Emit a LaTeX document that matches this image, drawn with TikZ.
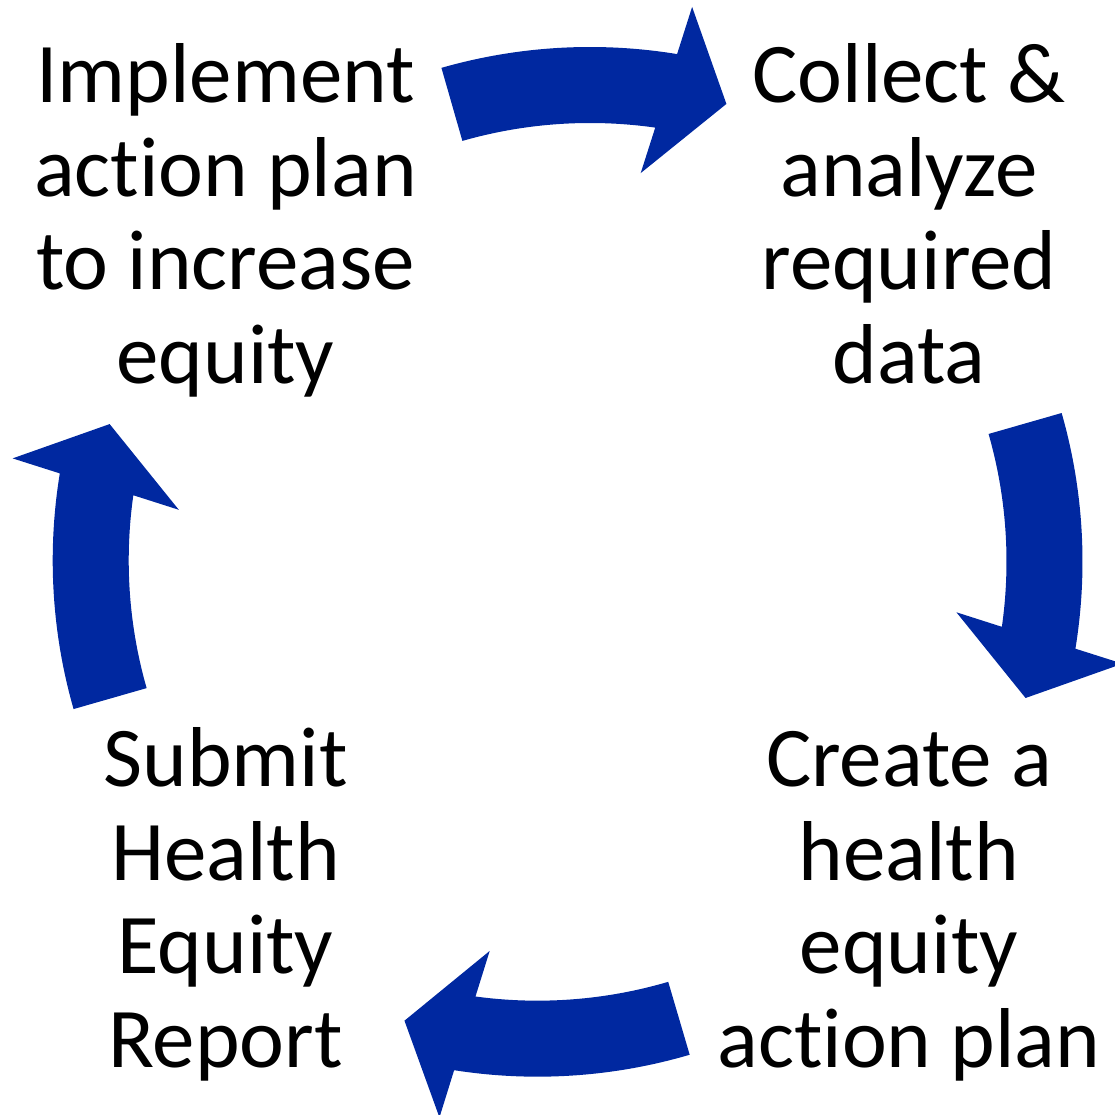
\documentclass[tikz,border=0pt]{standalone}
\usepackage{fontspec}
\setmainfont{Carlito}[Ligatures=NoCommon]
\definecolor{cycblue}{HTML}{0028A0}
\tikzset{
  arrowfill/.style={fill=cycblue, draw=none},
  lbl/.style={align=center, inner sep=0pt, font=\fontsize{85}{93.5}\selectfont, text=black}
}
\newcommand\cycarrow[3]{%
  \begin{scope}[shift={(#1,#2)}]
    \pgfmathsetmacro\aT{#3}
    \pgfmathsetmacro\aO{#3-25.3}
    \pgfmathsetmacro\aH{#3-26.0}
    \pgfmathsetmacro\aP{#3-31.8}
    \pgfmathsetmacro\aHi{#3-23.0}
    \pgfmathsetmacro\aI{#3-24.1}
    \fill[arrowfill] (\aT:539pt) arc[start angle=\aT, end angle=\aO, radius=539pt]
      -- (\aH:588pt) -- (\aP:501pt) -- (\aHi:416pt) -- (\aI:463pt)
      arc[start angle=\aI, end angle=\aT, radius=463pt] -- cycle;
  \end{scope}}
\begin{document}
\begin{tikzpicture}[x=1pt, y=1pt]
  \path[use as bounding box] (0,0) rectangle (1115,1115);
  \clip (0,0) rectangle (1115,1115);
  % four curved block arrows
  \cycarrow{590}{529}{106}
  \cycarrow{543.5}{553.4}{16}
  \cycarrow{537.5}{577.3}{-73.6}
  \cycarrow{591.7}{554.5}{-164}
  % labels (base anchor = baseline of the last line)
  \node[lbl, anchor=base] (impl) at (225.5,731.7) {Implement\\action plan\\to increase\\equity};
  \node[lbl, anchor=base] (coll) at (909,731.7) {Collect \&\\analyze\\required\\data};
  \node[lbl, anchor=base] (crea) at (909,47.8) {Create a\\health\\equity\\action plan};
  \node[lbl, anchor=base] (subm) at (225.5,47.8) {Submit\\Health\\Equity\\Report};
\end{tikzpicture}
\end{document}
